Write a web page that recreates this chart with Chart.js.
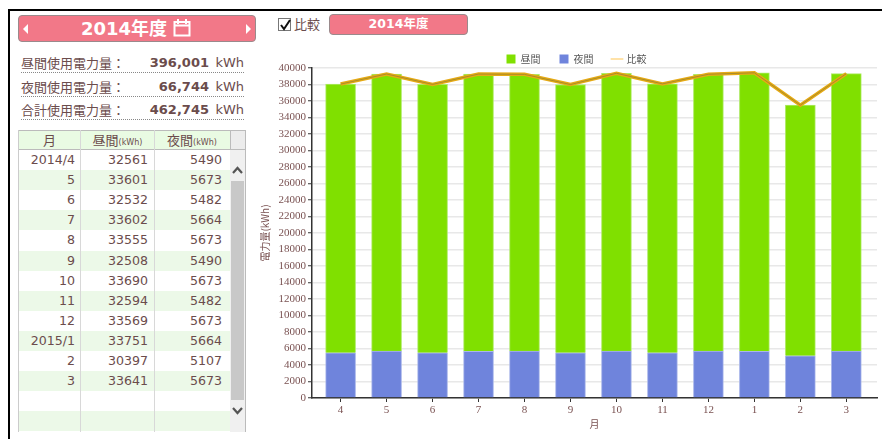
<!DOCTYPE html>
<html lang="ja">
<head>
<meta charset="utf-8">
<script src="https://cdn.jsdelivr.net/npm/chart.js@4"></script>
<style>
html,body{margin:0;padding:0;background:#fff;width:882px;height:439px;overflow:hidden;}
body{position:relative;font-family:"DejaVu Sans","Noto Sans CJK JP",sans-serif;color:#6b4c4c;}
.abs{position:absolute;box-sizing:border-box;white-space:nowrap;}
.cjk{font-family:"Noto Sans CJK JP",sans-serif;}
.pink{background:#f27888;border:1px solid #9a8a8c;border-radius:4px;color:#fff;font-weight:bold;text-align:center;}
.sum{left:21px;width:223px;height:20px;border-bottom:1px dotted #888;font-size:13px;line-height:20px;}
.cell{font-size:12.6px;line-height:20px;text-align:right;height:20.1px;}
canvas{position:absolute;left:258px;top:35px;}
</style>
</head>
<body>
<div class="abs" style="left:8px;top:9px;width:874px;height:430px;border-left:2px solid #000;border-top:2px solid #000;"></div>

<div class="abs pink" style="left:18px;top:15px;width:238px;height:27px;"></div>
<div class="abs" style="left:23px;top:24px;border-style:solid;border-width:5px 5px 5px 0;border-color:transparent #fff transparent transparent;width:0;height:0;"></div>
<div class="abs" style="left:246px;top:24px;border-style:solid;border-width:5px 0 5px 5px;border-color:transparent transparent transparent #fff;width:0;height:0;"></div>
<div class="abs" id="yearTitle" style="left:81px;top:15px;height:27px;line-height:27px;color:#fff;font-weight:bold;font-size:18px;"></div>
<svg class="abs" style="left:173px;top:18px;" width="18" height="19" viewBox="0 0 18 19" fill="none" stroke="#fff" stroke-width="2"><rect x="1.5" y="4" width="15" height="13.5"/><path d="M1.5 7.5h15M5 1v5M13 1v5"/></svg>

<div id="summary"></div>
<div id="table"></div>

<div class="abs" style="left:278px;top:18px;width:13px;height:13px;border:1px solid #777;background:#fff;"></div>
<svg class="abs" style="left:279px;top:18px;" width="13" height="13" viewBox="0 0 13 13" fill="none" stroke="#111" stroke-width="2"><path d="M2 7l3 4 6-9"/></svg>
<div class="abs cjk" style="left:294px;top:14px;font-size:13px;line-height:20px;">比較</div>
<div class="abs pink" id="compareBtn" style="left:329px;top:14px;width:139px;height:21px;font-size:12.5px;line-height:18px;"></div>

<canvas id="c" width="624" height="404" style="width:624px;height:404px;"></canvas>

<script>
const yearLabel = "2014年度";
const summaryLabels = ["昼間使用電力量：", "夜間使用電力量：", "合計使用電力量："];
const summaryValues = ["396,001", "66,744", "462,745"];
const tableMonths = ["2014/4","5","6","7","8","9","10","11","12","2015/1","2","3"];
const monthLabels = ["4","5","6","7","8","9","10","11","12","1","2","3"];
const dayValues = [32561,33601,32532,33602,33555,32508,33690,32594,33569,33751,30397,33641];
const nightValues = [5490,5673,5482,5664,5673,5490,5673,5482,5673,5664,5107,5673];
const compareValues = [38051,39274,38014,39266,39228,37998,39363,38076,39242,39415,35504,39314];

document.getElementById('yearTitle').textContent = yearLabel;
document.getElementById('compareBtn').textContent = yearLabel;

const sumTops = [53, 77, 100];
document.getElementById('summary').innerHTML = summaryLabels.map((l,i)=>
  `<div class="abs sum" style="top:${sumTops[i]}px;"><span class="cjk">${l}</span>`+
  `<span class="abs" style="right:35px;top:0;font-weight:bold;">${summaryValues[i]}</span>`+
  `<span class="abs" style="right:0;top:0;">kWh</span></div>`).join('');

(function(){
  const rowH = 20.1, top0 = 150;
  let h = '';
  for(let i=0;i<14;i++){
    const y = top0 + i*rowH;
    if(i%2===1) h += `<div class="abs" style="left:19px;top:${y}px;width:211px;height:${rowH}px;background:#ecf9e8;"></div>`;
    if(i<12){
      h += `<div class="abs cell" style="left:19px;width:56px;top:${y}px;">${tableMonths[i]}</div>`;
      h += `<div class="abs cell" style="left:85px;width:63px;top:${y}px;">${dayValues[i]}</div>`;
      h += `<div class="abs cell" style="left:160px;width:62px;top:${y}px;">${nightValues[i]}</div>`;
    }
  }
  h += `<div class="abs" style="left:18px;top:130px;width:228px;height:20px;border:1px solid #bbb;background:#e9fbe3;"></div>`;
  h += `<div class="abs" style="left:230px;top:131px;width:15px;height:18px;background:#ececec;border-left:1px solid #bbb;"></div>`;
  h += `<div class="abs cjk" style="left:19px;width:61px;top:130px;text-align:center;font-size:13px;line-height:19px;">月</div>`;
  h += `<div class="abs cjk" style="left:81px;width:73px;top:130px;text-align:center;font-size:13px;line-height:19px;">昼間<span style="font-size:8px;font-family:'DejaVu Sans';">(kWh)</span></div>`;
  h += `<div class="abs cjk" style="left:154px;width:76px;top:130px;text-align:center;font-size:13px;line-height:19px;">夜間<span style="font-size:8px;font-family:'DejaVu Sans';">(kWh)</span></div>`;
  h += `<div class="abs" style="left:18px;top:130px;width:1px;height:302px;background:#ccc;"></div>`;
  h += `<div class="abs" style="left:80px;top:130px;width:1px;height:302px;background:#d8d8d8;"></div>`;
  h += `<div class="abs" style="left:154px;top:130px;width:1px;height:302px;background:#d8d8d8;"></div>`;
  h += `<div class="abs" style="left:245px;top:130px;width:1px;height:302px;background:#bbb;"></div>`;
  h += `<div class="abs" style="left:230px;top:150px;width:15px;height:282px;background:#f0f0f0;"></div>`;
  h += `<div class="abs" style="left:231px;top:181px;width:13px;height:219px;background:#c8c8c8;"></div>`;
  h += `<svg class="abs" style="left:231px;top:165px;" width="13" height="10" fill="none" stroke="#555" stroke-width="2.2"><path d="M2 8l4.5-5 4.5 5"/></svg>`;
  h += `<svg class="abs" style="left:231px;top:406px;" width="13" height="10" fill="none" stroke="#555" stroke-width="2.2"><path d="M2 2l4.5 5 4.5-5"/></svg>`;
  document.getElementById('table').innerHTML = h;
})();

const toPoints = arr => arr.map((v,i)=>({x:i,y:v}));
const axisFont = {family:'"Liberation Serif","Noto Sans CJK JP",serif', size:11};
const cjkFont = {family:'"Noto Sans CJK JP",sans-serif', size:10};
const textColor = '#7a5252';

const legendFit = {
  id:'legendFit',
  beforeLayout(chart){
    const legend = chart.legend;
    if(!legend._fitWrapped){
      const origFit = legend.fit;
      legend.fit = function(){ origFit.call(this); this.height = 33; };
      legend._fitWrapped = true;
    }
  },
  afterLayout(chart){
    chart.legend.left += 9;
    chart.legend.right += 9;
  }
};

new Chart(document.getElementById('c'), {
  data:{
    datasets:[
      {type:'bar', label:'昼間', data:toPoints(dayValues), backgroundColor:'#80e000', borderColor:'#aeea66', borderWidth:1, barThickness:30, stack:'s', order:3},
      {type:'bar', label:'夜間', data:toPoints(nightValues), backgroundColor:'#6f84dc', borderColor:'#a9b6ea', borderWidth:1, barThickness:30, stack:'s', order:2},
      {type:'line', label:'比較', data:toPoints(compareValues), borderColor:'#e6aa14', borderWidth:3.5, pointRadius:0, tension:0, stack:'l1', order:1},
      {type:'line', label:'比較線', data:toPoints(compareValues), borderColor:'#9a8430', borderWidth:0.8, pointRadius:0, tension:0, stack:'l2', order:0}
    ]
  },
  plugins:[legendFit],
  options:{
    responsive:false, animation:false, devicePixelRatio:1,
    layout:{padding:{left:0,right:5,top:0,bottom:0}},
    plugins:{
      tooltip:{enabled:false},
      legend:{
        position:'top',
        labels:{
          font:cjkFont, color:'#555', boxHeight:9, boxWidth:9, padding:19, usePointStyle:true,
          generateLabels(){
            return [
              {text:'昼間', fillStyle:'#80e000', strokeStyle:'#80e000', lineWidth:0, pointStyle:'rect', fontColor:'#555', datasetIndex:0},
              {text:'夜間', fillStyle:'#6f84dc', strokeStyle:'#6f84dc', lineWidth:0, pointStyle:'rect', fontColor:'#555', datasetIndex:1},
              {text:'比較', fillStyle:'#ffe2a8', strokeStyle:'#ffe2a8', lineWidth:2, pointStyle:'line', fontColor:'#555', datasetIndex:2}
            ];
          }
        }
      }
    },
    scales:{
      x:{
        type:'linear', min:-0.622, max:11.667, stacked:true, offset:false,
        afterBuildTicks(s){ s.ticks = s.ticks.filter(t=>Number.isInteger(t.value) && t.value>=0 && t.value<monthLabels.length); },
        afterFit(s){ s.height = 41; },
        ticks:{stepSize:1, includeBounds:false, autoSkip:false, maxRotation:0, font:axisFont, color:textColor, padding:2,
               callback:v=>monthLabels[v]},
        grid:{offset:false, drawOnChartArea:false, drawTicks:true, tickLength:4, tickColor:'#333'},
        border:{color:'#333', width:1.5},
        title:{display:true, text:'月', font:cjkFont, color:textColor, padding:{top:3,bottom:9}}
      },
      y:{
        min:0, max:40000, stacked:true,
        afterFit(s){ s.width = 54; },
        ticks:{stepSize:2000, autoSkip:false, font:axisFont, color:textColor, padding:2, callback:v=>String(v)},
        grid:{color:'#e8e8e8', lineWidth:1.5, tickLength:4, tickColor:'#333', tickWidth:1},
        border:{color:'#333', width:1.5},
        title:{display:true, text:'電力量(kWh)', font:cjkFont, color:textColor, padding:{top:1,bottom:0}}
      }
    }
  }
});
</script>
</body>
</html>
